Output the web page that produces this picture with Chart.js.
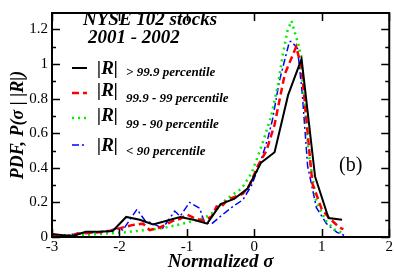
<!DOCTYPE html>
<html>
<head>
<meta charset="utf-8">
<script src="https://cdn.jsdelivr.net/npm/chart.js@4/dist/chart.umd.min.js"></script>
<style>
  html, body { margin: 0; padding: 0; background: #fff; }
  #wrap { width: 394px; height: 279px; }
</style>
</head>
<body>
<div id="wrap"><canvas id="chart" width="394" height="279"></canvas></div>
<script>
'use strict';

// > 99.9 percentile
const blackX = [-3, -2.7, -2.5, -2.3, -2.1, -1.9, -1.7, -1.5, -1.3, -1.1, -0.9, -0.7, -0.5, -0.3, -0.1, 0.1, 0.3, 0.5, 0.7, 0.9, 1.1, 1.3];
const blackY = [0.017, 0.005, 0.03, 0.03, 0.035, 0.116, 0.1, 0.072, 0.094, 0.115, 0.1, 0.077, 0.19, 0.22, 0.28, 0.43, 0.49, 0.82, 1.03, 0.35, 0.11, 0.1];

// 99.9 - 99 percentile
const redX = [-3, -2.8, -2.6, -2.4, -2.2, -2.0, -1.8, -1.65, -1.55, -1.4, -1.2, -1.1, -1.0, -0.86, -0.74, -0.63, -0.56, -0.5, -0.4, -0.17, -0.07, 0.05, 0.18, 0.3, 0.45, 0.62, 0.7, 0.79, 0.86, 1.0, 1.11, 1.26, 1.32];
const redY = [0.01, 0.005, 0.02, 0.025, 0.03, 0.05, 0.07, 0.077, 0.04, 0.055, 0.094, 0.105, 0.13, 0.105, 0.094, 0.12, 0.177, 0.17, 0.215, 0.25, 0.3, 0.41, 0.5, 0.65, 0.94, 1.1, 0.98, 0.6, 0.31, 0.16, 0.11, 0.055, 0.045];

// 99 - 90 percentile
const greenX = [-3, -2.6, -2.2, -1.92, -1.62, -1.37, -1.08, -0.74, -0.62, -0.41, -0.19, -0.04, 0.12, 0.25, 0.35, 0.42, 0.49, 0.55, 0.67, 0.75, 0.8, 0.92, 1.07, 1.2, 1.33];
const greenY = [0.01, 0.01, 0.02, 0.027, 0.04, 0.05, 0.075, 0.11, 0.14, 0.22, 0.28, 0.37, 0.54, 0.7, 0.88, 1.05, 1.19, 1.25, 1.09, 0.75, 0.5, 0.2, 0.09, 0.04, 0.02];

// < 90 percentile
const blueX = [-3, -2.8, -2.6, -2.4, -2.2, -2.02, -1.95, -1.74, -1.62, -1.5, -1.36, -1.18, -1.1, -0.96, -0.81, -0.74, -0.63, -0.5, -0.34, -0.17, -0.04, 0.08, 0.2, 0.27, 0.37, 0.52, 0.55, 0.64, 0.71, 0.79, 0.92, 1.07, 1.22, 1.33];
const blueY = [0.01, 0.005, 0.025, 0.025, 0.035, 0.05, 0.04, 0.16, 0.094, 0.077, 0.05, 0.15, 0.12, 0.2, 0.166, 0.083, 0.077, 0.12, 0.17, 0.215, 0.3, 0.42, 0.57, 0.68, 0.9, 1.13, 1.13, 1.09, 0.83, 0.41, 0.17, 0.077, 0.028, 0.01];

const xTicks = [-3, -2, -1, 0, 1, 2];
const yTicks = [0, 0.2, 0.4, 0.6, 0.8, 1, 1.2];

const legendLabels = ['> 99.9 percentile', '99.9 - 99 percentile', '99 - 90 percentile', '< 90 percentile'];

const serif = '"Liberation Serif", "Times New Roman", serif';

function points(xs, ys) {
	return xs.map((x, i) => ({ x: x, y: ys[i] }));
}

const series = [
	{ data: points(blackX, blackY), color: '#000000', width: 2, dash: [] },
	{ data: points(redX, redY), color: '#ff0000', width: 2.5, dash: [7, 4] },
	{ data: points(greenX, greenY), color: '#00ee00', width: 2.5, dash: [2, 4] },
	{ data: points(blueX, blueY), color: '#0000ff', width: 1.5, dash: [7, 3, 2, 3] },
];

// inside ticks on all four sides, the frame, and the hand-made legend
const framePlugin = {
	id: 'frame',
	afterDraw: function (chart) {
		const ctx = chart.ctx;
		const area = chart.chartArea;
		const xs = chart.scales.x;
		const ys = chart.scales.y;

		ctx.save();
		ctx.strokeStyle = '#000';
		ctx.lineWidth = 1.5;
		ctx.setLineDash([]);

		ctx.beginPath();
		xTicks.forEach(v => {
			const px = Math.round(xs.getPixelForValue(v)) + 0.5;
			ctx.moveTo(px, area.bottom);
			ctx.lineTo(px, area.bottom - 8);
			ctx.moveTo(px, area.top);
			ctx.lineTo(px, area.top + 8);
		});
		for (let k = 0; k <= 12; k++) {
			const py = Math.round(ys.getPixelForValue(k / 10)) + 0.5;
			const len = k % 2 === 0 ? 8 : 4;
			ctx.moveTo(area.left, py);
			ctx.lineTo(area.left + len, py);
			ctx.moveTo(area.right, py);
			ctx.lineTo(area.right - len, py);
		}
		ctx.stroke();

		ctx.lineWidth = 2;
		ctx.strokeRect(area.left, area.top, area.right - area.left, area.bottom - area.top);

		// header
		ctx.fillStyle = '#000';
		ctx.textAlign = 'left';
		ctx.textBaseline = 'alphabetic';
		ctx.font = 'italic bold 19px ' + serif;
		ctx.fillText('NYSE 102 stocks', 83, 25);
		ctx.fillText('2001 - 2002', 88, 43);

		// legend rows
		const lineY = [68, 93, 118, 145];
		const rBase = [74, 96, 121, 151];
		const subBase = [76, 102, 128, 155];
		series.forEach((s, i) => {
			ctx.strokeStyle = s.color;
			ctx.lineWidth = s.width;
			ctx.setLineDash(s.dash);
			ctx.beginPath();
			ctx.moveTo(72, lineY[i]);
			ctx.lineTo(87, lineY[i]);
			ctx.stroke();

			ctx.font = 'italic bold 19px ' + serif;
			ctx.fillText('|R|', 97, rBase[i]);
			ctx.font = 'italic bold 13px ' + serif;
			ctx.fillText(legendLabels[i], 126, subBase[i]);
		});

		ctx.setLineDash([]);
		ctx.font = '20px ' + serif;
		ctx.fillText('(b)', 339, 171);
		ctx.restore();
	},
};

const chart = new Chart(document.getElementById('chart'), {
	type: 'line',
	data: {
		datasets: series.map(s => ({
			data: s.data,
			borderColor: s.color,
			borderWidth: s.width,
			borderDash: s.dash,
			pointRadius: 0,
			tension: 0,
			fill: false,
		})),
	},
	options: {
		responsive: false,
		animation: false,
		devicePixelRatio: 1,
		layout: { padding: { top: 3, right: 4, left: 0, bottom: 0 } },
		plugins: {
			legend: { display: false },
			tooltip: { enabled: false },
		},
		scales: {
			x: {
				type: 'linear',
				min: -3,
				max: 2,
				afterFit: scale => { scale.height = 42; },
				afterBuildTicks: scale => { scale.ticks = xTicks.map(v => ({ value: v })); },
				grid: { display: false, drawTicks: false },
				border: { display: false },
				ticks: { color: '#000', padding: 1, maxRotation: 0, autoSkip: false, font: { family: serif, size: 15 }, callback: v => String(v) },
				title: {
					display: true,
					text: 'Normalized σ',
					color: '#000',
					padding: { top: 0, bottom: 6 },
					font: { family: serif, size: 19, style: 'italic', weight: 'bold' },
				},
			},
			y: {
				type: 'linear',
				min: 0,
				max: 1.295,
				afterFit: scale => { scale.width = 52; },
				afterBuildTicks: scale => { scale.ticks = yTicks.map(v => ({ value: v })); },
				grid: { display: false, drawTicks: false },
				border: { display: false },
				ticks: { color: '#000', padding: 4, autoSkip: false, font: { family: serif, size: 15 }, callback: v => String(v) },
				title: {
					display: true,
					text: 'PDF, P(σ | |R|)',
					color: '#000',
					padding: { top: 8, bottom: 0 },
					font: { family: serif, size: 18, style: 'italic', weight: 'bold' },
				},
			},
		},
	},
	plugins: [framePlugin],
});
</script>
</body>
</html>
